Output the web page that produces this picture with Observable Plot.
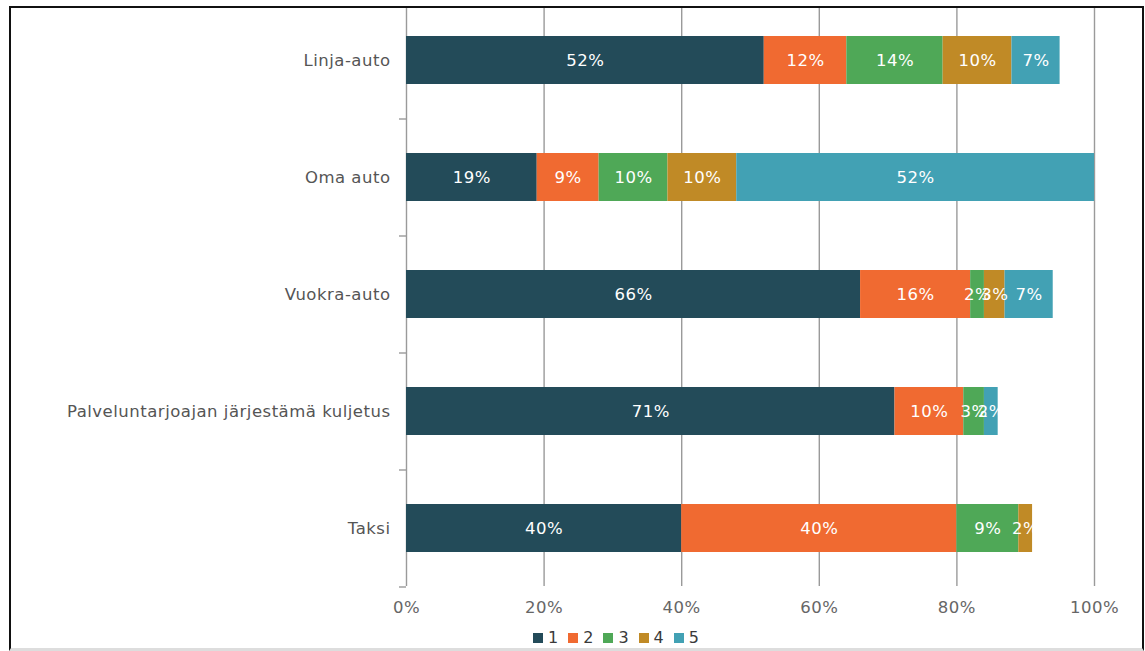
<!DOCTYPE html>
<html><head><meta charset="utf-8">
<script src="https://cdn.jsdelivr.net/npm/d3@7"></script>
<script src="https://cdn.jsdelivr.net/npm/@observablehq/plot@0.6"></script>
<style>
body{margin:0;background:#fff;font-family:"DejaVu Sans",sans-serif;}
#frame{position:absolute;left:9px;top:6px;width:1131px;height:640px;border:2px solid #111;border-bottom:3px solid #ddd;pointer-events:none;}
#chart{position:absolute;left:0;top:0;}
#legend{position:absolute;top:628px;left:533px;display:flex;font-size:16px;color:#3a3a3a;}
#legend .it{display:flex;align-items:center;margin-right:10px;}
#legend .sw{width:10px;height:10px;margin-right:5px;}
</style></head>
<body>
<div id="chart"></div>
<div id="legend"></div>
<div id="frame"></div>
<script>
const categories = ["Linja-auto","Oma auto","Vuokra-auto","Palveluntarjoajan järjestämä kuljetus","Taksi"];
const seriesNames = ["1","2","3","4","5"];
const s1 = [52,19,66,71,40];
const s2 = [12,9,16,10,40];
const s3 = [14,10,2,3,9];
const s4 = [10,10,3,0,2];
const s5 = [7,52,7,2,0];
const colors = ["#234b59","#f06a31","#4fa857","#c08a26","#42a1b4"];
const xTicks = [0,20,40,60,80,100];

const allSeries = [s1,s2,s3,s4,s5];
const data = [];
categories.forEach((c,i)=>allSeries.forEach((s,j)=>data.push({cat:c, series:seriesNames[j], value:s[i]})));
const labelData = data.filter(d=>d.value>0);

const plot = Plot.plot({
  width:1145, height:625,
  marginLeft:406, marginRight:51, marginTop:8, marginBottom:39,
  style:{fontFamily:"DejaVu Sans, sans-serif", background:"transparent", letterSpacing:"0.5px"},
  x:{domain:[0,100], ticks:xTicks},
  y:{domain:categories, range:[1,586], paddingInner:0.59, paddingOuter:0.295},
  color:{domain:seriesNames, range:colors},
  marks:[
    Plot.ruleX(xTicks,{stroke:"#9a9a9a", strokeWidth:1.4}),
    Plot.barX(data, Plot.stackX({x:"value", y:"cat", fill:"series", order:seriesNames})),
    Plot.text(labelData, Plot.stackX({x:"value", y:"cat", z:"series", order:seriesNames, text:d=>d.value+"%", fill:"white", fontSize:16.5})),
    Plot.axisX({ticks:xTicks, tickFormat:d=>d+"%", tickSize:0, tickPadding:15, fontSize:16.5, fill:"#666", label:null}),
    Plot.axisY({tickSize:0, tickPadding:16, fontSize:16.5, fill:"#555", label:null}),
    Plot.axisY({tickSize:7, dy:58.5, tickFormat:()=>"", stroke:"#9a9a9a", strokeWidth:1.4, label:null})
  ]
});
document.getElementById("chart").appendChild(plot);

const lg = document.getElementById("legend");
seriesNames.forEach((n,i)=>{
  const it=document.createElement("div"); it.className="it";
  const sw=document.createElement("div"); sw.className="sw"; sw.style.background=colors[i];
  const t=document.createElement("span"); t.textContent=n;
  it.appendChild(sw); it.appendChild(t); lg.appendChild(it);
});
</script>
</body></html>
